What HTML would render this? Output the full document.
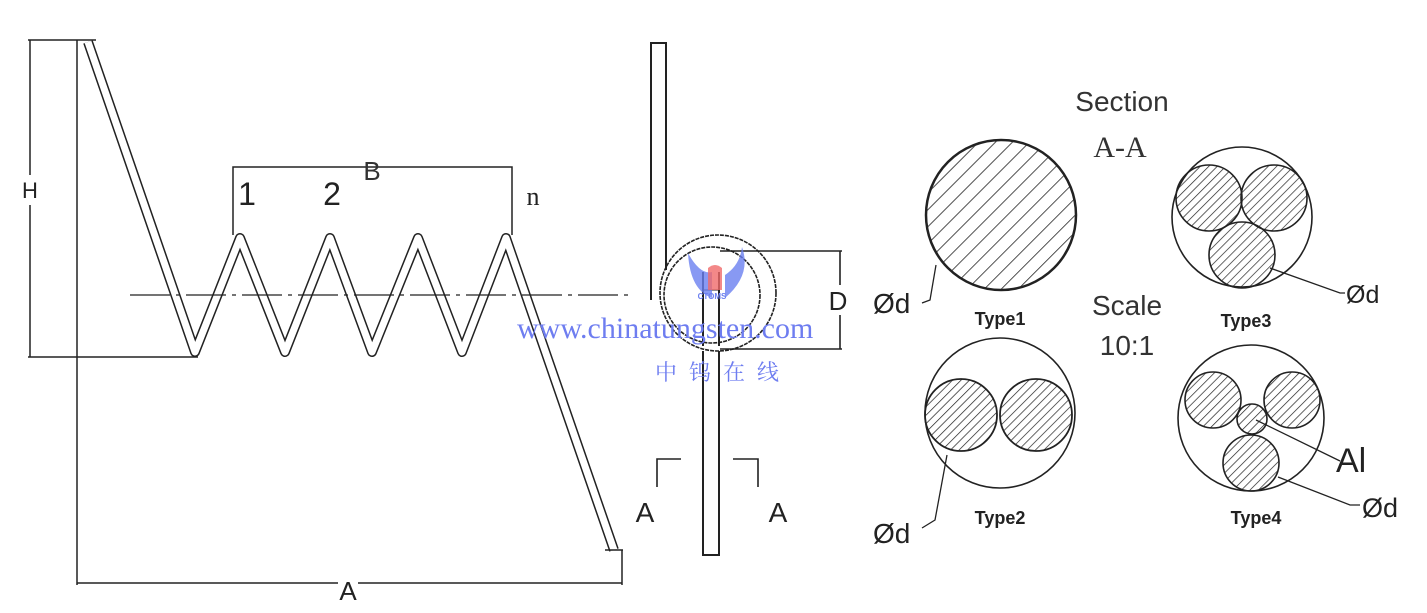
<!DOCTYPE html>
<html><head><meta charset="utf-8"><style>
html,body{margin:0;padding:0;background:#fff;}
svg{display:block;}
text{font-family:"Liberation Sans",sans-serif;}
</style></head><body>
<svg width="1427" height="613" viewBox="0 0 1427 613" xmlns="http://www.w3.org/2000/svg">
<defs>
<pattern id="h1" patternUnits="userSpaceOnUse" width="12" height="12" patternTransform="rotate(45)">
<line x1="0" y1="0" x2="0" y2="12" stroke="#222" stroke-width="1.6"/></pattern>
<pattern id="h2" patternUnits="userSpaceOnUse" width="6" height="6" patternTransform="rotate(45)">
<line x1="0" y1="0" x2="0" y2="6" stroke="#222" stroke-width="1.4"/></pattern>
</defs>
<g fill="none" stroke="#222">
<polyline points="88,42 195,352 240,238 285,352 330,238 372,352 418,238 462,352 506,238 614,550" stroke-width="10" stroke-linejoin="round"/>
<polyline points="88,42 195,352 240,238 285,352 330,238 372,352 418,238 462,352 506,238 614,550" stroke="#fff" stroke-width="7" stroke-linejoin="round"/>
<line x1="80" y1="40" x2="96" y2="40" stroke-width="1.5"/>
<line x1="605" y1="550" x2="623" y2="550" stroke-width="1.5"/>
<g stroke-width="1.5">
<line x1="28" y1="40" x2="80" y2="40"/>
<line x1="30" y1="40" x2="30" y2="175"/><line x1="30" y1="205" x2="30" y2="357"/>
<line x1="28" y1="357" x2="198" y2="357"/>
<line x1="77" y1="40" x2="77" y2="585"/>
<line x1="77" y1="583" x2="338" y2="583"/><line x1="358" y1="583" x2="622" y2="583"/>
<line x1="622" y1="550" x2="622" y2="585"/>
<polyline points="233,235 233,167 512,167 512,235"/>
<line x1="130" y1="295" x2="628" y2="295" stroke-dasharray="40,6,4,6" stroke-width="1.3"/>
</g>
<g stroke-width="2">
<path d="M651,300 L651,43 L666,43 L666,270"/>
<circle cx="718" cy="293" r="58" stroke-width="1.6" stroke-dasharray="4,1"/>
<circle cx="712" cy="295" r="48" stroke-width="1.6" stroke-dasharray="4,1"/>
<path d="M703,272 L703,346 M719,272 L719,346"/>
<path d="M703,351 L703,555 L719,555 L719,351"/>
<line x1="703" y1="290" x2="719" y2="290" stroke-width="1"/>
</g>
<g stroke-width="1.6">
<line x1="720" y1="251" x2="842" y2="251"/>
<line x1="720" y1="349" x2="842" y2="349"/>
<line x1="840" y1="251" x2="840" y2="285"/><line x1="840" y1="315" x2="840" y2="349"/>
<polyline points="657,487 657,459 681,459"/>
<polyline points="733,459 758,459 758,487"/>
</g>
<circle cx="1001" cy="215" r="75" fill="url(#h1)" stroke-width="2.5"/>
<circle cx="1000" cy="413" r="75" stroke-width="1.6"/>
<circle cx="961" cy="415" r="36" fill="url(#h2)" stroke-width="1.8"/>
<circle cx="1036" cy="415" r="36" fill="url(#h2)" stroke-width="1.8"/>
<circle cx="1242" cy="217" r="70" stroke-width="1.6"/>
<circle cx="1209" cy="198" r="33" fill="url(#h2)" stroke-width="1.6"/>
<circle cx="1274" cy="198" r="33" fill="url(#h2)" stroke-width="1.6"/>
<circle cx="1242" cy="255" r="33" fill="url(#h2)" stroke-width="1.6"/>
<circle cx="1251" cy="418" r="73" stroke-width="1.6"/>
<circle cx="1213" cy="400" r="28" fill="url(#h2)" stroke-width="1.6"/>
<circle cx="1292" cy="400" r="28" fill="url(#h2)" stroke-width="1.6"/>
<circle cx="1251" cy="463" r="28" fill="url(#h2)" stroke-width="1.6"/>
<circle cx="1252" cy="419" r="15" fill="url(#h2)" stroke-width="1.6"/>
<g stroke-width="1.3">
<polyline points="936,265 930,300 922,303"/>
<polyline points="947,455 935,520 922,528"/>
<polyline points="1270,268 1340,293 1345,293"/>
<polyline points="1256,420 1340,461"/>
<polyline points="1278,477 1350,505 1360,505"/>
</g>
</g>
<g fill="#222">
<text x="30" y="198" font-size="22" text-anchor="middle">H</text>
<text x="372" y="180" font-size="26" text-anchor="middle" fill="#333">B</text>
<text x="247" y="205" font-size="32" text-anchor="middle">1</text>
<text x="332" y="205" font-size="32" text-anchor="middle">2</text>
<text x="533" y="205" font-size="26" text-anchor="middle" style="font-family:'Liberation Serif',serif">n</text>
<text x="348" y="600" font-size="26" text-anchor="middle">A</text>
<text x="838" y="310" font-size="26" text-anchor="middle">D</text>
<text x="645" y="522" font-size="28" text-anchor="middle">A</text>
<text x="778" y="522" font-size="28" text-anchor="middle">A</text>
<text x="1122" y="111" font-size="28" text-anchor="middle" fill="#333">Section</text>
<text x="1120" y="157" font-size="30" text-anchor="middle" style="font-family:'Liberation Serif',serif" fill="#333">A-A</text>
<text x="1127" y="315" font-size="28" text-anchor="middle" fill="#333">Scale</text>
<text x="1127" y="355" font-size="28" text-anchor="middle" fill="#333">10:1</text>
<text x="1000" y="325" font-size="18" font-weight="bold" text-anchor="middle">Type1</text>
<text x="1246" y="327" font-size="18" font-weight="bold" text-anchor="middle">Type3</text>
<text x="1000" y="524" font-size="18" font-weight="bold" text-anchor="middle">Type2</text>
<text x="1256" y="524" font-size="18" font-weight="bold" text-anchor="middle">Type4</text>
<text x="873" y="313" font-size="28">Ød</text>
<text x="873" y="543" font-size="28">Ød</text>
<text x="1346" y="303" font-size="25">Ød</text>
<text x="1362" y="517" font-size="27">Ød</text>
<text x="1336" y="472" font-size="34">Al</text>
</g>
<path d="M688,253 Q700,275 712,272 L712,298 Q690,290 688,253 Z M742,247 Q752,275 725,298 L725,275 Q740,265 742,247 Z" fill="#6a7ff0" opacity="0.8"/>
<path d="M708,268 Q715,262 722,268 L722,290 L708,290 Z" fill="#f06a6a" opacity="0.8"/>
<text x="712" y="299" font-size="8" font-weight="bold" style="fill:#6a7ff0" text-anchor="middle">CTOMS</text>
<text x="517" y="338" font-size="30" style="font-family:'Liberation Serif',serif;fill:#6e7df0">www.chinatungsten.com</text>
<text x="655" y="380" font-size="22" style="font-family:'Liberation Serif','Noto Serif CJK SC',serif;letter-spacing:12px;fill:#6e7df0">中钨在线</text>
</svg>
</body></html>
